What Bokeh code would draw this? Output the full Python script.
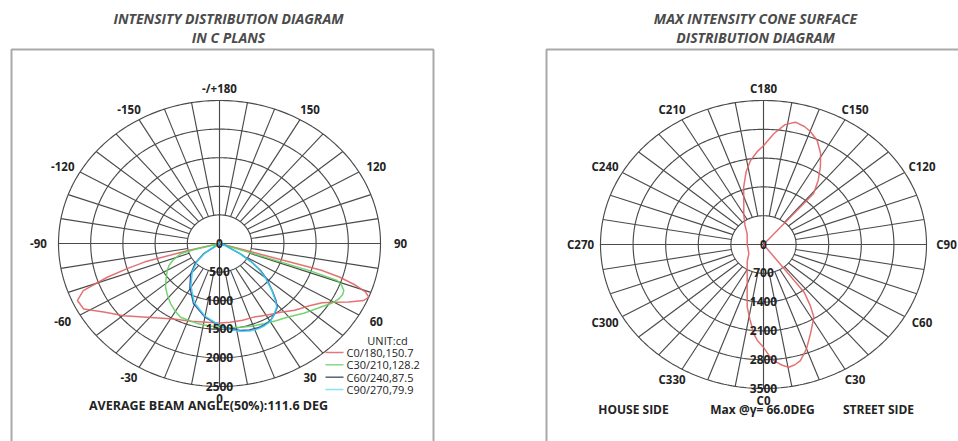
import numpy as np
from bokeh.plotting import figure
from bokeh.layouts import row
from bokeh.models import Range1d
from bokeh.embed import file_html
from bokeh.resources import INLINE
from bokeh.core.properties import value

# ---------------- data ----------------
left_title = ["INTENSITY DISTRIBUTION DIAGRAM", "IN C PLANS"]
right_title = ["MAX INTENSITY CONE SURFACE", "DISTRIBUTION DIAGRAM"]

left_ring_ticks = [0, 500, 1000, 1500, 2000, 2500]
angle_ticks = [0, 30, 60, 90, 120, 150, 180, 210, 240, 270, 300, 330]
left_angle_labels = ["0", "30", "60", "90", "120", "150", "-/+180",
                     "-150", "-120", "-90", "-60", "-30"]

right_ring_ticks = [0, 700, 1400, 2100, 2800, 3500]
right_angle_labels = ["C0", "C30", "C60", "C90", "C120", "C150", "C180",
                      "C210", "C240", "C270", "C300", "C330"]

series_names = ["C0/180,150.7", "C30/210,128.2", "C60/240,87.5", "C90/270,79.9"]
series_colors = ["#e06464", "#62d062", "#2c3f96", "#3cd2ea"]
legend_colors = ["#e07a7a", "#86da86", "#56627e", "#86e2f0"]

# gamma (deg, negative = C180/210/240/270 half), intensity (cd)
c0_gamma = [-90, -78, -76, -74.5, -73, -71.3, -68.7, -65.7, -61.5, -56.3, -49.7,
            -41.1, -28.3, -18, -8, 0, 7, 15, 22.5, 30, 38.3, 45, 52.5, 57, 60,
            63, 66, 68, 69.5, 71, 72.5, 73.5, 75, 90]
c0_int = [0, 0, 500, 1200, 1500, 1840, 2270, 2420, 2400, 2160, 1950,
          1710, 1500, 1430, 1390, 1390, 1386, 1388, 1393, 1450, 1530, 1650, 1780, 1900, 2050,
          2250, 2450, 2500, 2420, 2230, 1950, 1650, 0, 0]

c30_gamma = [-90, -77, -75, -73.4, -68, -64, -59.8, -53, -47.6, -42, -35.9, -30,
             -25.2, -14, -7, 0, 6, 12.5, 19, 26.1, 33, 39.2, 47, 54.6, 59, 62.4,
             65, 66.9, 69, 70.5, 71.2, 72, 90]
c30_int = [0, 0, 400, 631, 780, 870, 940, 1040, 1134, 1210, 1296, 1370,
           1424, 1440, 1450, 1463, 1480, 1499, 1530, 1563, 1610, 1662, 1790, 1923, 2030, 2090,
           2110, 2098, 2030, 1938, 1500, 0, 0]

c60_gamma = [-90, -57, -54, -48, -40, -31, -21, -10, 0, 6, 12, 17, 22, 26, 30.5,
             34, 38.8, 41.5, 44.8, 50, 53.4, 57, 61, 68, 75, 90]
c60_int = [0, 0, 300, 500, 695, 892, 1126, 1306, 1434, 1500, 1555, 1580, 1590, 1585, 1560,
           1510, 1430, 1320, 1160, 950, 793, 600, 372, 100, 0, 0]

c90_gamma = [-90, -58, -54, -48, -40, -31, -21, -10, 0, 6, 12, 17, 22, 26, 30.5,
             34, 38.8, 41.5, 44.8, 50, 53.4, 57, 61, 68, 75, 90]
c90_int = [0, 0, 280, 470, 660, 860, 1100, 1290, 1430, 1510, 1570, 1600, 1610, 1600, 1570,
           1510, 1420, 1300, 1150, 930, 770, 580, 350, 90, 0, 0]

# max-intensity cone (gamma = 66 deg): C angle (deg), intensity (cd)
cone_c = [0, 3, 5, 7.8, 10.3, 13, 15.7, 20, 24.9, 31.5, 34, 37, 37.8, 138, 139, 143,
          147, 151, 155.5, 160, 163, 167, 171, 175.3, 180, 183, 187.8, 192, 197, 205,
          210, 220, 233, 250, 270, 290, 306, 320, 330, 338, 343, 347, 351, 354.5, 357, 360]
cone_int = [2500, 2740, 2850, 2963, 3031, 3000, 2930, 2700, 2394, 2072, 1800, 1450, 0, 0, 1640, 1950,
            2243, 2530, 2778, 2930, 3000, 3052, 2950, 2700, 2400, 2280, 2060, 1800, 1456, 1000,
            850, 620, 440, 372, 350, 350, 389, 545, 700, 934, 1200, 1556, 1850, 2180, 2350, 2500]

left_note = "AVERAGE BEAM ANGLE(50%):111.6 DEG"
unit_label = "UNIT:cd"
right_notes = ["HOUSE SIDE", "Max @\u03b3= 66.0DEG", "STREET SIDE"]

# ---------------- layout constants ----------------
W, H = 479, 441
FONT = value("Open Sans")
GRID_COLOR = "#4a4a4a"
BOX_COLOR = "#a9a9a9"
TEXT_COLOR = "#232323"


def make_polar(cx, cy, rx, ry, rings, labels):
    rmax = rings[-1]
    sx, sy = rx / rmax, ry / rmax
    p = figure(width=W, height=H,
               x_range=Range1d(-cx / sx, (W - cx) / sx),
               y_range=Range1d(-(H - cy) / sy, cy / sy),
               output_backend="svg", toolbar_location=None,
               x_axis_type=None, y_axis_type=None, min_border=0,
               outline_line_color=None, background_fill_color="white",
               border_fill_color="white")

    def pd(px, py):
        return (px - cx) / sx, (cy - py) / sy

    # rings
    t = np.linspace(0, 2 * np.pi, 361)
    xs = [list(r * np.sin(t)) for r in rings[1:]]
    ys = [list(r * np.cos(t)) for r in rings[1:]]
    # spokes every 10 degrees
    for a in range(0, 360, 10):
        r0 = 0 if a % 90 == 0 else rings[1]
        ar = np.radians(a)
        xs.append([r0 * np.sin(ar), rmax * np.sin(ar)])
        ys.append([-r0 * np.cos(ar), -rmax * np.cos(ar)])
    p.multi_line(xs, ys, line_color=GRID_COLOR, line_width=1.15)

    # angle labels
    ang = np.radians(angle_ticks)
    lx = np.sin(ang) * (rmax + 20 / sx)
    ly = -np.cos(ang) * (rmax + 12 / sy)
    p.text(lx, ly, text=labels, text_align="center", text_baseline="middle",
           text_font=FONT, text_font_style="bold", text_font_size="11.5px",
           text_color=TEXT_COLOR)
    return p, pd, sx, sy


def ring_labels(p, rings, sy):
    p.text([0] * len(rings), [-r + 0.5 / sy for r in rings],
           text=[str(r) for r in rings], text_align="center",
           text_baseline="alphabetic", text_font=FONT, text_font_style="bold",
           text_font_size="12px", text_color=TEXT_COLOR)


def add_title(p, pd, px, lines):
    xy = [pd(px, 18), pd(px, 37)]
    p.text([v[0] for v in xy], [v[1] for v in xy], text=lines,
           text_align="center", text_baseline="middle", text_font=FONT,
           text_font_style="bold italic", text_font_size="14px",
           text_color="#4b4b4b")


def polar_xy(angles, vals):
    a = np.radians(angles)
    v = np.array(vals, dtype=float)
    return v * np.sin(a), -v * np.cos(a)


# ---------------- left figure ----------------
pl, pdl, sxl, syl = make_polar(219, 243, 161, 143, left_ring_ticks, left_angle_labels)

# box
bx0, by0 = pdl(11, 49)
bx1, by1 = pdl(433, 49)
_, bybot = pdl(11, 460)
pl.line([bx0, bx0, bx1, bx1], [bybot, by0, by1, bybot], line_color=BOX_COLOR, line_width=2)

add_title(pl, pdl, 228, left_title)

for g, iv, col in zip([c0_gamma, c30_gamma, c60_gamma, c90_gamma],
                      [c0_int, c30_int, c60_int, c90_int], series_colors):
    x, y = polar_xy(g, iv)
    pl.line(x, y, line_color=col, line_width=1.5, line_alpha=0.9)

ring_labels(pl, left_ring_ticks, syl)

# legend
ux, uy = pdl(387, 340)
pl.text([ux], [uy], text=[unit_label], text_align="center", text_baseline="middle",
        text_font=FONT, text_font_size="11px", text_color=TEXT_COLOR)
ly_px = [352, 364.3, 376.7, 389]
for i, (name, col) in enumerate(zip(series_names, legend_colors)):
    x0, y0 = pdl(325, ly_px[i])
    x1, _ = pdl(343, ly_px[i])
    xt, _ = pdl(346, ly_px[i])
    pl.line([x0, x1], [y0, y0], line_color=col, line_width=1.5)
    pl.text([xt], [y0], text=[name], text_align="left", text_baseline="middle",
            text_font=FONT, text_font_size="11px", text_color=TEXT_COLOR)

nx, ny = pdl(208, 405)
pl.text([nx], [ny], text=[left_note], text_align="center", text_baseline="middle",
        text_font=FONT, text_font_style="bold", text_font_size="12.5px", text_color=TEXT_COLOR)

# ---------------- right figure ----------------
pr, pdr, sxr, syr = make_polar(284, 244, 163, 144, right_ring_ticks, right_angle_labels)

bx0, by0 = pdr(67, 49)
bx1, _ = pdr(500, 49)
_, bybot = pdr(67, 460)
pr.line([bx0, bx0, bx1], [bybot, by0, by0], line_color=BOX_COLOR, line_width=2)

add_title(pr, pdr, 276, right_title)

x, y = polar_xy(cone_c, cone_int)
pr.line(x, y, line_color=series_colors[0], line_width=1.5, line_alpha=0.9)

ring_labels(pr, right_ring_ticks, syr)

note_px = [154, 283, 399]
for t_, px in zip(right_notes, note_px):
    nx, ny = pdr(px, 409)
    pr.text([nx], [ny], text=[t_], text_align="center", text_baseline="middle",
            text_font=FONT, text_font_style="bold", text_font_size="12px",
            text_color=TEXT_COLOR)

layout = row(pl, pr)
open("out.html", "w").write(file_html(layout, INLINE))
